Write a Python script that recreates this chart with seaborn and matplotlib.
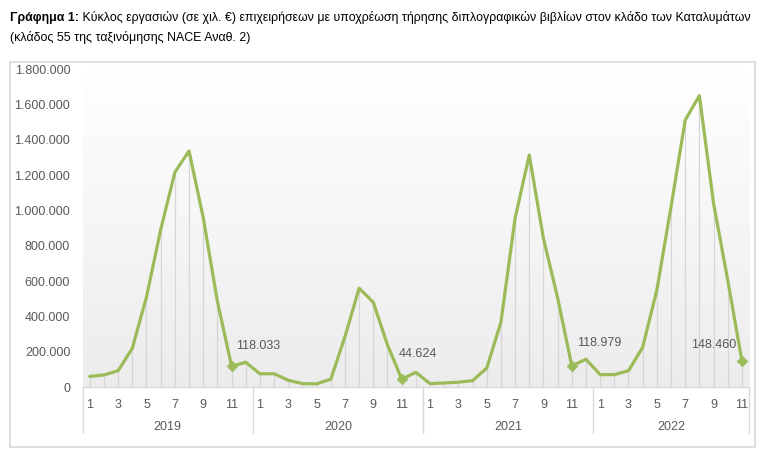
import numpy as np
import pandas as pd
import matplotlib
matplotlib.use("Agg")
import matplotlib.pyplot as plt
import matplotlib.transforms as mtransforms
from matplotlib.patches import Rectangle
from matplotlib import font_manager
from matplotlib.colors import LinearSegmentedColormap
import seaborn as sns

# ---- data (thousand euro) ----
years = ["2019", "2020", "2021", "2022"]
months_2019 = [1, 2, 3, 4, 5, 6, 7, 8, 9, 10, 11, 12]
months_2020 = [1, 2, 3, 4, 5, 6, 7, 8, 9, 10, 11, 12]
months_2021 = [1, 2, 3, 4, 5, 6, 7, 8, 9, 10, 11, 12]
months_2022 = [1, 2, 3, 4, 5, 6, 7, 8, 9, 10, 11]
values_2019 = [60000, 68000, 92000, 219000, 510000, 890000, 1215000, 1336000, 960000, 485000, 118033, 140000]
values_2020 = [75000, 75000, 38000, 19000, 18000, 44000, 285000, 559000, 479000, 238000, 44624, 83000]
values_2021 = [19000, 23000, 27000, 36000, 107000, 366000, 955000, 1313000, 841000, 505000, 118979, 157000]
values_2022 = [70000, 70000, 92000, 225000, 549000, 1020000, 1511000, 1649000, 1040000, 605000, 148460]
labelled_values = [118033, 44624, 118979, 148460]
labelled_texts = ["118.033", "44.624", "118.979", "148.460"]
y_ticks = [0, 200000, 400000, 600000, 800000, 1000000, 1200000, 1400000, 1600000, 1800000]

title_bold = "Γράφημα 1:"
title_rest = " Κύκλος εργασιών (σε χιλ. €) επιχειρήσεων με υποχρέωση τήρησης διπλογραφικών βιβλίων στον κλάδο των Καταλυμάτων"
title_line2 = "(κλάδος 55 της ταξινόμησης NACE Αναθ. 2)"

# ---- build table ----
all_months = [months_2019, months_2020, months_2021, months_2022]
all_values = [values_2019, values_2020, values_2021, values_2022]
rows = []
for yr, ms, vs in zip(years, all_months, all_values):
    for m, v in zip(ms, vs):
        rows.append({"year": yr, "month": m, "value": v})
df = pd.DataFrame(rows)
df["idx"] = np.arange(len(df))

sns.set_theme(style="white")
FONT = ["Liberation Sans", "DejaVu Sans"]
plt.rcParams["font.family"] = FONT
names = {f.name for f in font_manager.fontManager.ttflist}
TITLE_FONT = ["Liberation Sans Narrow", "Liberation Sans", "DejaVu Sans"] if "Liberation Sans Narrow" in names else FONT

fig = plt.figure(figsize=(7.78, 4.76), dpi=100)
ax = fig.add_axes([82.7 / 778, 1 - 387 / 476, (749 - 82.7) / 778, (387 - 69) / 476])

n = len(df)
ax.set_xlim(-0.5, n - 0.5)
ax.set_ylim(0, 1800000)

# gradient background
grad = np.linspace(0, 1, 256).reshape(-1, 1)
cmap = LinearSegmentedColormap.from_list("g", ["#ececec", "#ffffff"])
ax.imshow(grad, aspect="auto", cmap=cmap, origin="lower",
          extent=[-0.5, n - 0.5, 0, 1800000], zorder=0)

# drop lines
ax.vlines(df["idx"], 0, df["value"], colors="#d6d6d6", linewidth=0.9, zorder=1)

sns.lineplot(data=df, x="idx", y="value", ax=ax, color="#9bbb59", linewidth=2.3,
             zorder=3, legend=False)

lab = df[df["value"].isin(labelled_values)]
sns.scatterplot(data=lab, x="idx", y="value", ax=ax, marker="D", s=30,
                color="#9bbb59", edgecolor="#9bbb59", zorder=4, legend=False)

offsets = [(3, 10, "left"), (-2, 14, "left"), (4, 12, "left"), (-4, 7, "right")]
for (_, r), txt, (dx, dy, ha) in zip(lab.iterrows(), labelled_texts, offsets):
    ax.annotate(txt, (r["idx"], r["value"]), xytext=(dx, dy), textcoords="offset points",
                ha=ha, va="bottom", fontsize=9, color="#595959")

# axes styling
for s in ["top", "right", "left"]:
    ax.spines[s].set_visible(False)
ax.spines["bottom"].set_color("#d9d9d9")
ax.spines["bottom"].set_linewidth(1.0)
ax.set_xlabel("")
ax.set_ylabel("")
ax.set_yticks(y_ticks)
ax.set_yticklabels([f"{v:,}".replace(",", ".") for v in y_ticks])
ax.tick_params(axis="y", length=0, pad=9, labelsize=9, labelcolor="#595959")

tick_pos = df.loc[df["month"] % 2 == 1, "idx"].tolist()
tick_lab = df.loc[df["month"] % 2 == 1, "month"].astype(str).tolist()
ax.set_xticks(tick_pos)
ax.set_xticklabels(tick_lab)
ax.tick_params(axis="x", length=0, pad=9, labelsize=9, labelcolor="#595959")

# year labels and separators
trans = mtransforms.blended_transform_factory(ax.transData, ax.transAxes)
bounds = [-0.5]
for yr in years:
    sub = df[df["year"] == yr]
    bounds.append(sub["idx"].max() + 0.5)
    ax.text((sub["idx"].min() + sub["idx"].max()) / 2, -0.125, yr, transform=trans,
            ha="center", va="center", fontsize=9, color="#595959")
sep_bottom = -(433 - 387) / (387 - 69)
for b in bounds:
    ax.plot([b, b], [0, sep_bottom], transform=trans, color="#d9d9d9",
            linewidth=1.0, clip_on=False)

# outer frame
fig.patches.append(Rectangle((10 / 778, 1 - 447 / 476), (755 - 10) / 778, (447 - 62) / 476,
                             transform=fig.transFigure, fill=False,
                             edgecolor="#d9d9d9", linewidth=1.2))

# title, fitted to the reference width (x from 10 to 752 px)
def draw_title(fs):
    a = fig.text(10 / 778, 1 - 18 / 476, title_bold, fontsize=fs, fontweight="bold",
                 ha="left", va="center", color="#000000", family=TITLE_FONT)
    fig.canvas.draw()
    bb = a.get_window_extent()
    b = fig.text(bb.x1 / 778, 1 - 18 / 476, title_rest, fontsize=fs, ha="left", va="center",
                 color="#000000", family=TITLE_FONT)
    c = fig.text(10 / 778, 1 - 38 / 476, title_line2, fontsize=fs, ha="left", va="center",
                 color="#000000", family=TITLE_FONT)
    fig.canvas.draw()
    return a, b, c

fs = 10.0
parts = draw_title(fs)
right = parts[1].get_window_extent().x1
if right > 752:
    for p in parts:
        p.remove()
    fs = fs * (752 - 10) / (right - 10)
    parts = draw_title(fs)

fig.savefig("out.png", dpi=100)
